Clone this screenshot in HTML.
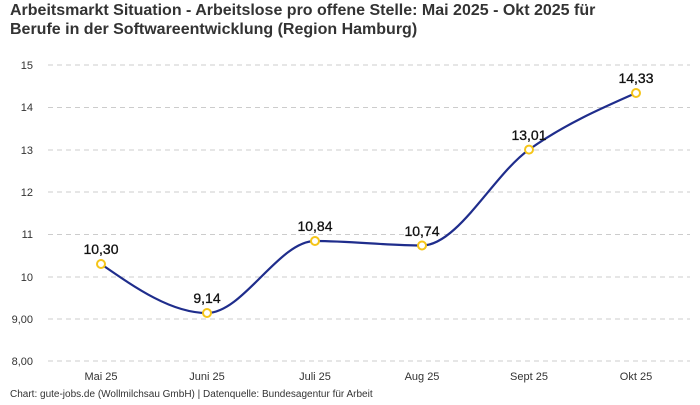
<!DOCTYPE html>
<html><head><meta charset="utf-8"><style>
body{margin:0;background:#fff;width:700px;height:400px;overflow:hidden;font-family:"Liberation Sans",sans-serif}
</style></head><body>
<svg width="700" height="400" xmlns="http://www.w3.org/2000/svg" font-family="Liberation Sans, sans-serif">
<text x="10" y="15" font-size="16" font-weight="bold" fill="#333">Arbeitsmarkt Situation - Arbeitslose pro offene Stelle: Mai 2025 - Okt 2025 für</text>
<text x="10" y="34" font-size="16" font-weight="bold" fill="#333">Berufe in der Softwareentwicklung (Region Hamburg)</text>
<g stroke="#ccc" stroke-dasharray="5,4" stroke-width="1">
<line x1="48" x2="690" y1="65" y2="65"/><line x1="48" x2="690" y1="107.5" y2="107.5"/>
<line x1="48" x2="690" y1="150" y2="150"/><line x1="48" x2="690" y1="192" y2="192"/>
<line x1="48" x2="690" y1="234.5" y2="234.5"/><line x1="48" x2="690" y1="277" y2="277"/>
<line x1="48" x2="690" y1="319" y2="319"/><line x1="48" x2="690" y1="361" y2="361"/>
</g>
<g font-size="11" fill="#333" text-anchor="end">
<text x="33" y="69">15</text><text x="33" y="111">14</text><text x="33" y="154">13</text>
<text x="33" y="196">12</text><text x="33" y="238">11</text><text x="33" y="281">10</text>
<text x="33" y="323">9,00</text><text x="33" y="365">8,00</text>
</g>
<g font-size="11" fill="#333" text-anchor="middle">
<text x="101" y="380">Mai 25</text><text x="207" y="380">Juni 25</text><text x="315" y="380">Juli 25</text>
<text x="422" y="380">Aug 25</text><text x="529" y="380">Sept 25</text><text x="636" y="380">Okt 25</text>
</g>
<path d="M101,264 C136.3,288.5 171.7,313 207,313 C243,313 279,241 315,241 C350.7,241 386.3,245.5 422,245.5 C457.7,245.5 493.3,175 529,149.6 C564.7,124.3 600.3,108.7 636,93" fill="none" stroke="#1f2d8c" stroke-width="2.2"/>
<g fill="#fff" stroke="#f5c518" stroke-width="2">
<circle cx="101" cy="264" r="4"/><circle cx="207" cy="313" r="4"/><circle cx="315" cy="241" r="4"/>
<circle cx="422" cy="245.5" r="4"/><circle cx="529" cy="149.6" r="4"/><circle cx="636" cy="93" r="4"/>
</g>
<g font-size="14" fill="#111" text-anchor="middle" stroke="#111" stroke-width="0.3">
<text x="101" y="254">10,30</text><text x="207" y="303">9,14</text><text x="315" y="231">10,84</text>
<text x="422" y="236">10,74</text><text x="529" y="140">13,01</text><text x="636" y="83">14,33</text>
</g>
<text x="10" y="397" font-size="10" fill="#333">Chart: gute-jobs.de (Wollmilchsau GmbH) | Datenquelle: Bundesagentur für Arbeit</text>
</svg>
</body></html>
